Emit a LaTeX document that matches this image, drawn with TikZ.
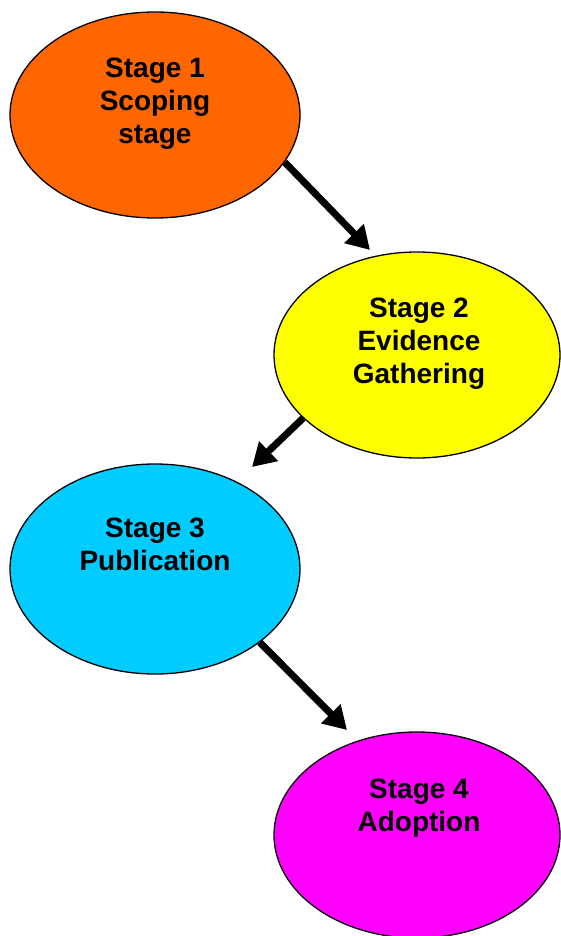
\documentclass[tikz,border=0pt]{standalone}
\usepackage{fontspec}
\setmainfont{Liberation Sans}
\usetikzlibrary{shapes.geometric,arrows.meta}
\definecolor{stageorange}{HTML}{FF6600}
\definecolor{stageyellow}{HTML}{FFFF00}
\definecolor{stagecyan}{HTML}{00CCFF}
\definecolor{stagemagenta}{HTML}{FF00FF}
\tikzset{
  stagebox/.style={ellipse, draw=black, line width=1.3pt, inner sep=0pt,
    minimum width=290pt, minimum height=206pt},
  stagetext/.style={align=center, inner sep=0pt,
    font=\fontsize{28pt}{33pt}\selectfont\bfseries},
  flow/.style={line width=7pt, -{Triangle[length=23pt,width=26pt]}}
}
\begin{document}
\begin{tikzpicture}[x=1pt,y=-1pt]
  \useasboundingbox (0,0) rectangle (560,936);
  % stage ellipses
  \node[stagebox, fill=stageorange] (s1) at (155,115) {};
  \node[stagebox, fill=stageyellow, minimum width=286pt] (s2) at (417,355) {};
  \node[stagebox, fill=stagecyan, minimum height=210pt] (s3) at (155,569) {};
  \node[stagebox, fill=stagemagenta, minimum width=286pt] (s4) at (417,835) {};
  % stage captions
  \node[stagetext] (t1) at (155,104) {Stage 1\\Scoping\\stage};
  \node[stagetext] (t2) at (419,344) {Stage 2\\Evidence\\Gathering};
  \node[stagetext] (t3) at (155,544) {Stage 3\\Publication};
  \node[stagetext] (t4) at (419,808) {Stage 4\\Adoption};
  % arrow tips stop short of the next ellipse
  \coordinate (c1) at (370,250);
  \coordinate (c2) at (252,467);
  \coordinate (c3) at (347,730);
  \draw[flow] (s1.-20) -- (c1);
  \draw[flow] (s2.-151.5) -- (c2);
  \draw[flow] (s3.-35.7) -- (c3);
\end{tikzpicture}
\end{document}
